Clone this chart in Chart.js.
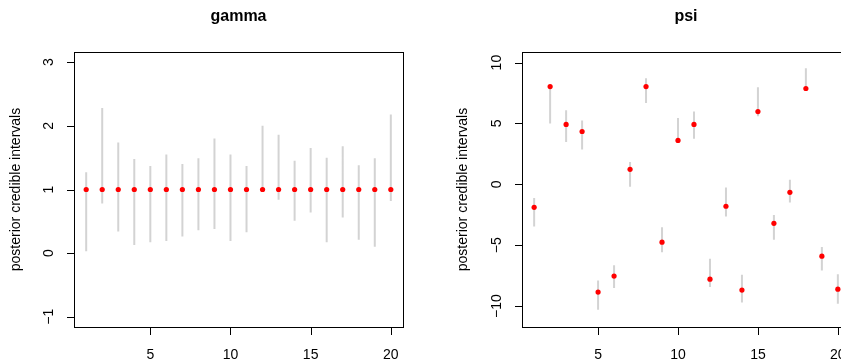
<!DOCTYPE html>
<html lang="en">

<head>
    <title>gamma / psi</title>
    <meta charset="utf-8">
    <script src="https://cdn.jsdelivr.net/npm/chart.js@4.4.0/dist/chart.umd.min.js"></script>
    <style>
        html, body { margin: 0; padding: 0; background: #fff; overflow: hidden; }
        #wrap { position: relative; width: 841px; height: 363px; overflow: hidden; }
        canvas { position: absolute; top: 0; }
    </style>
</head>

<body>
    <div id="wrap">
        <canvas id="gammaChart" width="447" height="363" style="left:0px"></canvas>
        <canvas id="psiChart" width="447" height="363" style="left:447px"></canvas>
    </div>
    <script>
        // index 1..20
        var idx = [1, 2, 3, 4, 5, 6, 7, 8, 9, 10, 11, 12, 13, 14, 15, 16, 17, 18, 19, 20];
        var xTicks = [5, 10, 15, 20];

        // gamma: point estimates and interval ends
        var gammaEst = [1, 1, 1, 1, 1, 1, 1, 1, 1, 1, 1, 1, 1, 1, 1, 1, 1, 1, 1, 1];
        var gammaLow = [0.03, 0.78, 0.34, 0.13, 0.17, 0.19, 0.26, 0.36, 0.38, 0.19, 0.33, 0.99, 0.84, 0.51, 0.64, 0.17, 0.56, 0.21, 0.10, 0.82];
        var gammaHigh = [1.27, 2.28, 1.74, 1.48, 1.37, 1.55, 1.40, 1.49, 1.80, 1.55, 1.37, 2.00, 1.86, 1.45, 1.65, 1.50, 1.68, 1.38, 1.49, 2.18];
        var gammaTicks = [-1, 0, 1, 2, 3];

        // psi
        var psiEst = [-1.89, 8.03, 4.92, 4.34, -8.85, -7.54, 1.23, 8.03, -4.75, 3.61, 4.92, -7.79, -1.80, -8.69, 5.98, -3.20, -0.66, 7.87, -5.90, -8.61];
        var psiLow = [-3.47, 5.00, 3.47, 2.87, -10.30, -8.52, -0.19, 6.69, -5.57, 3.50, 3.74, -8.44, -2.65, -9.70, 5.60, -4.56, -1.50, 7.80, -7.08, -9.81];
        var psiHigh = [-1.12, 8.10, 6.09, 5.25, -7.90, -6.64, 1.83, 8.72, -3.52, 5.44, 5.98, -6.12, -0.27, -7.43, 7.98, -2.51, 0.38, 9.54, -5.14, -7.38];
        var psiTicks = [-10, -5, 0, 5, 10];

        var FONT = '"Liberation Sans", Arial, Helvetica, sans-serif';

        function segments(low, high) {
            var out = [];
            for (var i = 0; i < idx.length; i++) {
                out.push({ x: idx[i], y: low[i] });
                out.push({ x: idx[i], y: high[i] });
                out.push({ x: idx[i], y: null });
            }
            return out;
        }

        // box, ticks and all text drawn like R base graphics
        var rFrame = {
            id: 'rFrame',
            afterDraw: function (chart, args, opts) {
                var c = chart.ctx, a = chart.chartArea;
                var xs = chart.scales.x, ys = chart.scales.y;
                c.save();
                c.strokeStyle = '#000';
                c.lineWidth = 1;
                c.strokeRect(Math.round(a.left) + 0.5, Math.round(a.top) + 0.5,
                    Math.round(a.right - a.left), Math.round(a.bottom - a.top));
                c.fillStyle = '#000';
                c.font = '14px ' + FONT;
                c.beginPath();
                xs.ticks.forEach(function (t) {
                    var px = Math.round(xs.getPixelForValue(t.value)) + 0.5;
                    c.moveTo(px, a.bottom);
                    c.lineTo(px, a.bottom + 8);
                });
                ys.ticks.forEach(function (t) {
                    var py = Math.round(ys.getPixelForValue(t.value)) + 0.5;
                    c.moveTo(a.left, py);
                    c.lineTo(a.left - 7, py);
                });
                c.stroke();
                c.textAlign = 'center';
                c.textBaseline = 'alphabetic';
                xs.ticks.forEach(function (t) {
                    c.fillText(String(t.value), xs.getPixelForValue(t.value), 359);
                });
                ys.ticks.forEach(function (t) {
                    c.save();
                    c.translate(a.left - 21, ys.getPixelForValue(t.value));
                    c.rotate(-Math.PI / 2);
                    c.fillText(String(t.value).replace('-', '\u2212'), 0, 0);
                    c.restore();
                });
                c.save();
                c.translate(20, (a.top + a.bottom) / 2);
                c.rotate(-Math.PI / 2);
                c.fillText(opts.ylab, 0, 0);
                c.restore();
                c.font = 'bold 16px ' + FONT;
                c.fillText(opts.main, (a.left + a.right) / 2, 21);
                c.restore();
            }
        };

        function makeChart(id, est, low, high, yTicks, ymin, ymax, title, padLeft) {
            var pts = idx.map(function (v, i) { return { x: v, y: est[i] }; });
            return new Chart(document.getElementById(id).getContext('2d'), {
                type: 'scatter',
                data: {
                    datasets: [{
                        data: pts,
                        order: 0,
                        pointRadius: 2.6,
                        pointHoverRadius: 2.6,
                        pointBackgroundColor: '#ff0000',
                        pointBorderWidth: 0,
                        borderColor: '#ff0000'
                    }, {
                        data: segments(low, high),
                        order: 1,
                        showLine: true,
                        spanGaps: false,
                        pointRadius: 0,
                        borderColor: '#d3d3d3',
                        borderWidth: 2
                    }]
                },
                options: {
                    responsive: false,
                    animation: false,
                    devicePixelRatio: 1,
                    layout: { padding: { left: padLeft, right: 44, top: 52, bottom: 36 } },
                    plugins: {
                        legend: { display: false },
                        tooltip: { enabled: false },
                        rFrame: { main: title, ylab: 'posterior credible intervals' }
                    },
                    scales: {
                        x: {
                            type: 'linear', min: 0.24, max: 20.76,
                            grid: { display: false }, border: { display: false },
                            ticks: { display: false },
                            afterBuildTicks: function (s) { s.ticks = xTicks.map(function (v) { return { value: v }; }); },
                            afterFit: function (s) { s.height = 0; }
                        },
                        y: {
                            type: 'linear', min: ymin, max: ymax,
                            grid: { display: false }, border: { display: false },
                            ticks: { display: false },
                            afterBuildTicks: function (s) { s.ticks = yTicks.map(function (v) { return { value: v }; }); },
                            afterFit: function (s) { s.width = 0; }
                        }
                    }
                },
                plugins: [rFrame]
            });
        }

        makeChart('gammaChart', gammaEst, gammaLow, gammaHigh, gammaTicks, -1.16, 3.16, 'gamma', 74);
        makeChart('psiChart', psiEst, psiLow, psiHigh, psiTicks, -11.72, 10.87, 'psi', 75);
    </script>
</body>

</html>
